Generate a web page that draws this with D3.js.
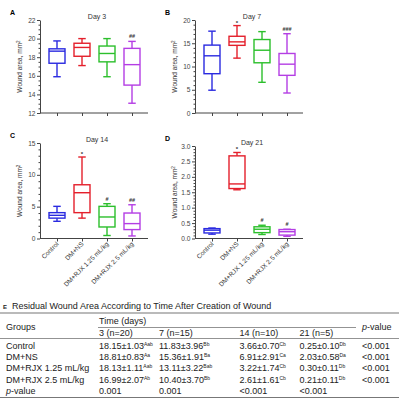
<!DOCTYPE html>
<html>
<head>
<meta charset="utf-8">
<script src="https://cdn.jsdelivr.net/npm/d3@7"></script>
<style>
  body { margin: 0; background: #fff; }
  svg { font-family: "Liberation Sans", Arial, sans-serif; display: block; }
</style>
</head>
<body>
<div id="chart"></div>
<script>
const groups = ["Control", "DM+NS", "DM+RJX 1.25 mL/kg", "DM+RJX 2.5 mL/kg"];
const colors = ["#2a2ae0", "#e4202c", "#2cbf2c", "#b43ee4"];

// box stats per group: [min, q1, median, q3, max]
const day3Stats = [
    [15.9, 17.35, 18.65, 18.9, 19.75],
    [17.1, 18.1, 19.05, 19.5, 20.0],
    [15.9, 17.5, 18.4, 19.2, 20.0],
    [13.05, 15.0, 17.2, 18.95, 19.7]
];
const day7Stats = [
    [4.9, 8.45, 12.3, 14.6, 17.6],
    [11.8, 14.55, 15.3, 16.5, 18.8],
    [6.6, 10.8, 13.5, 15.8, 17.5],
    [4.3, 8.1, 10.5, 12.8, 17.05]
];
const day14Stats = [
    [2.7, 3.2, 3.64, 4.06, 5.05],
    [3.2, 4.06, 7.19, 8.44, 12.8],
    [0.47, 1.81, 3.38, 5.05, 5.47],
    [0.4, 1.4, 2.34, 4.0, 5.3]
];
const day21Stats = [
    [0.14, 0.18, 0.27, 0.32, 0.34],
    [1.58, 1.62, 1.77, 2.68, 2.79],
    [0.13, 0.19, 0.30, 0.38, 0.43],
    [0.07, 0.11, 0.22, 0.29, 0.30]
];
const day3Marks = ["", "", "", "##"];
const day7Marks = ["", "*", "", "###"];
const day14Marks = ["", "*", "#", "##"];
const day21Marks = ["", "*", "#", "#"];

const day3Ticks = [12, 14, 16, 18, 20, 22];
const day7Ticks = [0, 5, 10, 15, 20];
const day14Ticks = [0, 5, 10, 15];
const day21Ticks = [0, 0.5, 1.0, 1.5, 2.0, 2.5, 3.0];

// table
const tableTitle = "Residual Wound Area According to Time After Creation of Wound";
const timeCols = ["3 (n=20)", "7 (n=15)", "14 (n=10)", "21 (n=5)"];
const meanValues = [
    ["18.15", "11.83", "3.66", "0.25"],
    ["18.81", "15.36", "6.91", "2.03"],
    ["18.13", "13.11", "3.22", "0.30"],
    ["16.99", "10.40", "2.61", "0.21"]
];
const sdValues = [
    ["1.03", "3.96", "0.70", "0.10"],
    ["0.83", "1.91", "2.91", "0.58"],
    ["1.11", "3.22", "1.74", "0.11"],
    ["2.07", "3.70", "1.61", "0.11"]
];
const letters = [
    ["Aab", "Bb", "Cb", "Db"],
    ["Aa", "Ba", "Ca", "Da"],
    ["Aab", "Bab", "Cb", "Db"],
    ["Ab", "Bb", "Cb", "Db"]
];
const rowPValues = ["<0.001", "<0.001", "<0.001", "<0.001"];
const colPValues = ["0.001", "0.001", "<0.001", "<0.001"];

const svg = d3.select("#chart").append("svg")
    .attr("width", 399)
    .attr("height", 400);

const x = d3.scalePoint().domain(groups).range([17, 92]);

function drawPanel(cfg) {
    const g = svg.append("g");
    const y = d3.scaleLinear().domain(cfg.domain).range([cfg.bottom, cfg.top]);
    const x0 = cfg.x0;

    // minor ticks
    const minor = d3.range(cfg.domain[0], cfg.domain[1] + 1e-9, cfg.minor)
        .filter(v => !cfg.ticks.some(t => Math.abs(t - v) < 1e-6));
    g.append("g")
        .attr("transform", `translate(${x0},0)`)
        .call(d3.axisLeft(y).tickValues(minor).tickSize(1.5).tickFormat(""))
        .call(a => a.select(".domain").remove())
        .selectAll("line").attr("stroke", "#444");

    const ya = g.append("g")
        .attr("transform", `translate(${x0},0)`)
        .call(d3.axisLeft(y).tickValues(cfg.ticks).tickSize(3).tickSizeOuter(0).tickPadding(1.5)
            .tickFormat(cfg.fmt));
    ya.selectAll("text").attr("font-size", 6.6).attr("fill", "#444");
    ya.selectAll("line").attr("stroke", "#444");
    ya.select(".domain").attr("stroke", "#444");

    // x axis
    g.append("line")
        .attr("x1", x0).attr("x2", x0 + 108)
        .attr("y1", cfg.bottom).attr("y2", cfg.bottom)
        .attr("stroke", "#444");
    const xa = g.append("g")
        .attr("transform", `translate(${x0},${cfg.bottom})`)
        .call(d3.axisBottom(x).tickSize(3).tickFormat(""));
    xa.select(".domain").remove();
    xa.selectAll("line").attr("stroke", "#444");

    if (cfg.labels) {
        g.selectAll(".xl").data(groups).enter().append("text")
            .attr("transform", d => `translate(${x0 + x(d) + 2},${cfg.bottom + 6}) rotate(-45)`)
            .attr("text-anchor", "end")
            .attr("font-size", 6.5)
            .attr("fill", "#333")
            .text(d => d);
    }

    // y label
    const yl = g.append("text")
        .attr("transform", `translate(${x0 - 18},${(cfg.top + cfg.bottom) / 2}) rotate(-90)`)
        .attr("text-anchor", "middle")
        .attr("font-size", 6.5)
        .attr("fill", "#333");
    yl.append("tspan").text("Wound area, mm");
    yl.append("tspan").attr("font-size", 4.5).attr("dy", -2.5).text("2");

    // title & letter
    g.append("text")
        .attr("x", x0 + 57).attr("y", cfg.top - 1)
        .attr("text-anchor", "middle")
        .attr("font-size", 7)
        .attr("fill", "#333")
        .text(cfg.title);
    g.append("text")
        .attr("x", x0 - 30).attr("y", cfg.top - 5)
        .attr("font-size", 7)
        .attr("font-weight", "bold")
        .text(cfg.letter);

    // boxes
    const bw = 16, cw = 7.5;
    cfg.stats.forEach((s, i) => {
        const cx = x0 + x(groups[i]);
        const c = colors[i];
        const bx = g.append("g").attr("stroke", c).attr("stroke-width", 1.4).attr("fill", "none");
        bx.append("line").attr("x1", cx).attr("x2", cx).attr("y1", y(s[4])).attr("y2", y(s[3]));
        bx.append("line").attr("x1", cx).attr("x2", cx).attr("y1", y(s[1])).attr("y2", y(s[0]));
        bx.append("line").attr("x1", cx - cw / 2).attr("x2", cx + cw / 2).attr("y1", y(s[4])).attr("y2", y(s[4]));
        bx.append("line").attr("x1", cx - cw / 2).attr("x2", cx + cw / 2).attr("y1", y(s[0])).attr("y2", y(s[0]));
        bx.append("rect").attr("x", cx - bw / 2).attr("width", bw)
            .attr("y", y(s[3])).attr("height", Math.max(0.5, y(s[1]) - y(s[3])));
        bx.append("line").attr("x1", cx - bw / 2).attr("x2", cx + bw / 2).attr("y1", y(s[2])).attr("y2", y(s[2]));
        if (cfg.marks[i]) {
            g.append("text")
                .attr("x", cx).attr("y", y(s[4]) - (cfg.marks[i] === "*" ? 1 : 3))
                .attr("text-anchor", "middle")
                .attr("font-size", cfg.marks[i] === "*" ? 6 : 5.5)
                .attr("font-weight", "bold")
                .attr("fill", "#333")
                .text(cfg.marks[i]);
        }
    });
}

drawPanel({ x0: 40, top: 20, bottom: 113, domain: [12, 22], ticks: day3Ticks, minor: 0.5,
    fmt: d3.format("d"), stats: day3Stats, marks: day3Marks, title: "Day 3", letter: "A", labels: false });
drawPanel({ x0: 195, top: 20, bottom: 113, domain: [0, 20], ticks: day7Ticks, minor: 1,
    fmt: d3.format("d"), stats: day7Stats, marks: day7Marks, title: "Day 7", letter: "B", labels: false });
drawPanel({ x0: 40, top: 143, bottom: 238.5, domain: [0, 15], ticks: day14Ticks, minor: 1,
    fmt: d3.format("d"), stats: day14Stats, marks: day14Marks, title: "Day 14", letter: "C", labels: true });
drawPanel({ x0: 195, top: 146, bottom: 238.5, domain: [0, 3], ticks: day21Ticks, minor: 0.1,
    fmt: d3.format(".1f"), stats: day21Stats, marks: day21Marks, title: "Day 21", letter: "D", labels: true });

// table
const t = svg.append("g").attr("font-size", 9).attr("fill", "#222");
t.append("text").attr("x", 3).attr("y", 309).attr("font-weight", "bold").attr("font-size", 6).text("E");
t.append("text").attr("x", 12).attr("y", 309).text(tableTitle);

const rule = (x1, x2, yy, w) => t.append("line")
    .attr("x1", x1).attr("x2", x2).attr("y1", yy).attr("y2", yy)
    .attr("stroke", "#777").attr("stroke-width", w);
rule(0, 399, 313, 1.2);
rule(98, 356, 327.5, 0.8);
rule(0, 399, 338.5, 0.8);
rule(0, 399, 397.5, 1.2);

const colX = [99, 159, 239.5, 299.5];
const pX = 362;
t.append("text").attr("x", 6).attr("y", 330).text("Groups");
t.append("text").attr("x", 99).attr("y", 323.5).text("Time (days)");
const ph = t.append("text").attr("x", pX).attr("y", 330);
ph.append("tspan").attr("font-style", "italic").text("p");
ph.append("tspan").text("-value");
timeCols.forEach((c, j) => t.append("text").attr("x", colX[j]).attr("y", 336).text(c));

const rowY = [349, 360.2, 371.4, 382.6, 393.8];
groups.forEach((gname, i) => {
    t.append("text").attr("x", 6).attr("y", rowY[i]).text(gname);
    meanValues[i].forEach((m, j) => {
        const cell = t.append("text").attr("x", colX[j]).attr("y", rowY[i]);
        cell.append("tspan").text(`${m}\u00b1${sdValues[i][j]}`);
        cell.append("tspan").attr("font-size", 5).attr("dy", -3).text(letters[i][j]);
    });
    t.append("text").attr("x", pX).attr("y", rowY[i]).text(rowPValues[i]);
});
const pl = t.append("text").attr("x", 6).attr("y", rowY[4]);
pl.append("tspan").attr("font-style", "italic").text("p");
pl.append("tspan").text("-value");
colPValues.forEach((p, j) => t.append("text").attr("x", colX[j]).attr("y", rowY[4]).text(p));
</script>
</body>
</html>
